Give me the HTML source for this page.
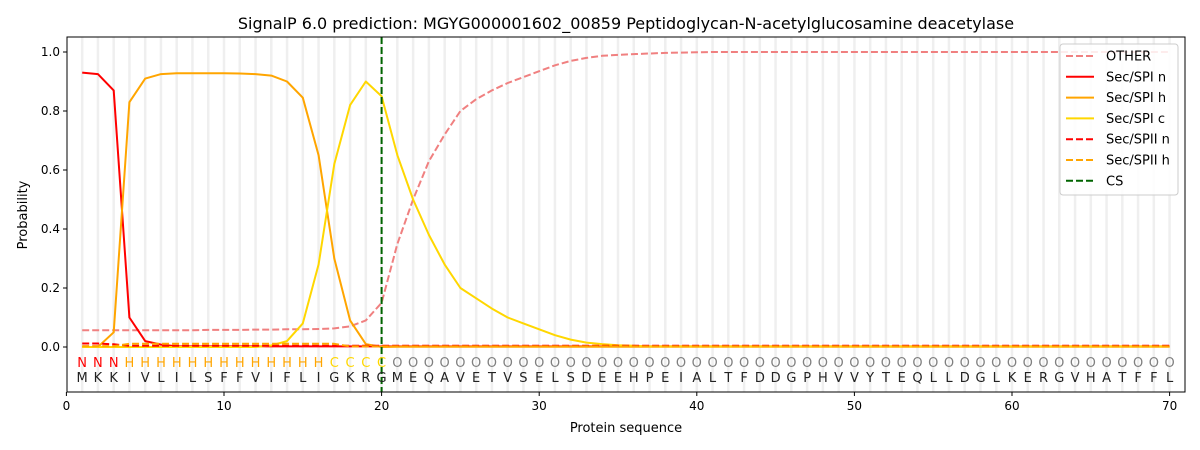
<!DOCTYPE html>
<html><head><meta charset="utf-8"><style>body{margin:0;background:#fff}svg{display:block;font-family:"DejaVu Sans","Liberation Sans",sans-serif}</style></head>
<body><svg id="s" width="1200" height="450" xmlns="http://www.w3.org/2000/svg"></svg>
<script>
const X=v=>66.4+v*15.76, Y=v=>347-v*295;
let h='<rect width="1200" height="450" fill="#fff"/>';
for(let i=1;i<=70;i++)h+=`<line x1="${X(i)}" x2="${X(i)}" y1="37" y2="392" stroke="#efefef" stroke-width="2.5"/>`;
const seq="MKKIVLILSFFVIFLIGKRGMEQAVETVSELSDEEHPEIALTFDDGPHVVYTEQLLDGLKERGVHATFFL";
function arr(f){let a=[];for(let i=1;i<=70;i++)a.push(f(i));return a;}
const oth=[.057,.057,.057,.057,.057,.057,.057,.057,.058,.058,.058,.059,.059,.06,.06,.061,.063,.07,.09,.15,.35,.5,.63,.72,.8,.84,.87,.895,.915,.935,.955,.97,.98,.987,.99,.993,.995,.997,.998,.999];
const O=arr(i=>i<=oth.length?oth[i-1]:1.0);
const nn=[.93,.925,.87,.1,.02,.008];const N=arr(i=>i<=6?nn[i-1]:.002);
const hh=[0,0,.05,.83,.91,.925,.928,.928,.928,.928,.927,.925,.92,.9,.845,.65,.3,.09,.01,0];const H=arr(i=>i<=20?hh[i-1]:0.001);
const cc=[0,0,0,0,0,0,0,0,0,0,0,0,.005,.02,.08,.28,.62,.82,.9,.85,.65,.5,.38,.28,.2,.165,.13,.1,.08,.06,.04,.025,.015,.01,.006,.004];const C=arr(i=>i<=cc.length?cc[i-1]:.002);
const N2=arr(i=>i<=2?.012:i==3?.009:.004);
const H2=arr(i=>i<=3?.003:i<=17?.011:.002);
function line(a,col,dash){return `<polyline fill="none" stroke="${col}" stroke-width="2" stroke-linejoin="round" ${dash?'stroke-dasharray="7,3"':''} points="${a.map((v,i)=>X(i+1).toFixed(1)+','+Y(v).toFixed(1)).join(' ')}"/>`;}
h+=line(O,"#f08080",1)+line(N,"#ff0000")+line(H,"#ffa500")+line(C,"#ffd700")+line(N2,"#ff0000",1)+line(H2,"#ffa500",1);
h+=`<line x1="${X(20)}" x2="${X(20)}" y1="37" y2="392" stroke="#006400" stroke-width="2" stroke-dasharray="7,3"/>`;
for(let i=1;i<=70;i++){let l=i<=3?'N':i<=16?'H':i<=20?'C':'O';let c=i<=3?'#ff0000':i<=16?'#ffa500':i<=20?'#ffd700':'#808080';
h+=`<text x="${X(i)}" y="367" font-size="13" fill="${c}" text-anchor="middle">${l}</text><text x="${X(i)}" y="382" font-size="13" fill="#222" text-anchor="middle">${seq[i-1]}</text>`;}
h+='<rect x="67" y="37" width="1118" height="355" fill="none" stroke="#000" stroke-width="1"/>';
for(let t=0;t<=70;t+=10)h+=`<line x1="${X(t)}" x2="${X(t)}" y1="392" y2="396" stroke="#000"/><text x="${X(t)}" y="410" font-size="12" text-anchor="middle">${t}</text>`;
for(let k=0;k<=5;k++){let v=k*.2;h+=`<line x1="63" x2="67" y1="${Y(v)}" y2="${Y(v)}" stroke="#000"/><text x="60" y="${Y(v)+4}" font-size="12" text-anchor="end">${v.toFixed(1)}</text>`;}
h+='<text x="626" y="432" font-size="13" text-anchor="middle">Protein sequence</text>';
h+='<text x="27" y="215" font-size="13" text-anchor="middle" transform="rotate(-90 27 215)">Probability</text>';
h+='<text x="626" y="29" font-size="16" text-anchor="middle">SignalP 6.0 prediction: MGYG000001602_00859 Peptidoglycan-N-acetylglucosamine deacetylase</text>';
h+='<rect x="1060" y="44" width="118" height="151" rx="3" fill="#fff" fill-opacity="0.85" stroke="#ccc"/>';
const lg=[["OTHER","#f08080",1],["Sec/SPI n","#ff0000"],["Sec/SPI h","#ffa500"],["Sec/SPI c","#ffd700"],["Sec/SPII n","#ff0000",1],["Sec/SPII h","#ffa500",1],["CS","#006400",1]];
lg.forEach((e,j)=>{let y=56+j*20.8;h+=`<line x1="1066" x2="1094" y1="${y}" y2="${y}" stroke="${e[1]}" stroke-width="2" ${e[2]?'stroke-dasharray="7,3"':''}/><text x="1106" y="${y+4.5}" font-size="13">${e[0]}</text>`;});
document.getElementById('s').innerHTML=h;
</script></body></html>
